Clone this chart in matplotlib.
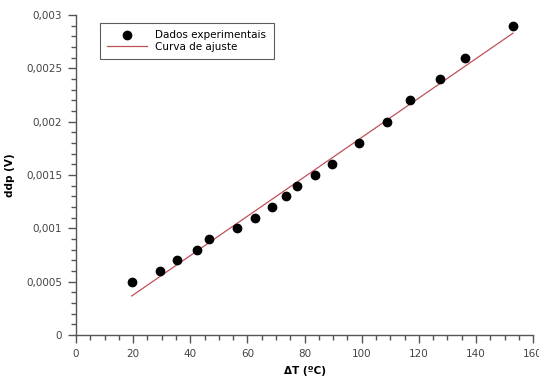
import numpy as np
import matplotlib
matplotlib.use('Agg')
import matplotlib.pyplot as plt
from matplotlib.ticker import MultipleLocator, FuncFormatter

#-----------------------------------------------------------------------------------------------------------------------
# Data
#-----------------------------------------------------------------------------------------------------------------------
delta_T = [19.5, 29.5, 35.5, 42.5, 46.5, 56.5, 62.5, 68.5, 73.5, 77.5, 83.5, 89.5, 99, 109, 117, 127.5, 136, 153]
ddp = [0.0005, 0.0006, 0.0007, 0.0008, 0.0009, 0.0010, 0.0011, 0.0012, 0.0013, 0.0014, 0.0015, 0.0016,
       0.0018, 0.0020, 0.0022, 0.0024, 0.0026, 0.0029]

fit_x = [19.5, 153]
fit_y = [0.000366, 0.00283]

#-----------------------------------------------------------------------------------------------------------------------
# Plot
#-----------------------------------------------------------------------------------------------------------------------
fig = plt.figure(figsize=(5.39, 3.81), dpi=100)
ax = fig.add_axes([0.141, 0.1207, 0.848, 0.84])

ax.plot(delta_T, ddp, 'o', color='black', markersize=6, label='Dados experimentais', zorder=3)
ax.plot(fit_x, fit_y, '-', color='#c0505a', linewidth=0.9, label='Curva de ajuste', zorder=2)

ax.set_xlim(0, 160)
ax.set_ylim(0, 0.003)
ax.xaxis.set_major_locator(MultipleLocator(20))
ax.xaxis.set_minor_locator(MultipleLocator(5))
ax.yaxis.set_major_locator(MultipleLocator(0.0005))
ax.yaxis.set_minor_locator(MultipleLocator(0.0001))

def comma_fmt(v, pos):
    return ('%g' % v).replace('.', ',')

ax.yaxis.set_major_formatter(FuncFormatter(comma_fmt))
ax.xaxis.set_major_formatter(FuncFormatter(comma_fmt))

for s in ['top', 'right']:
    ax.spines[s].set_visible(False)
for s in ['left', 'bottom']:
    ax.spines[s].set_color('#555555')
    ax.spines[s].set_linewidth(1.0)

ax.tick_params(which='major', direction='out', length=6, width=1, color='#555555',
               labelsize=7.5, labelcolor='#444444', pad=4)
ax.tick_params(which='minor', direction='out', length=3.5, width=1, color='#555555')

ax.set_xlabel('ΔT (ºC)', fontsize=7.5, fontweight='bold', labelpad=5)
ax.set_ylabel('ddp (V)', fontsize=7.5, fontweight='bold', labelpad=8)

leg = ax.legend(loc='upper left', bbox_to_anchor=(100 / 539, 1 - 23 / 381), bbox_transform=fig.transFigure,
                fontsize=7.5, frameon=True, fancybox=False, borderpad=0.7, handlelength=3.8,
                labelspacing=0.15, borderaxespad=0, handletextpad=0.8)
leg.get_frame().set_edgecolor('#333333')
leg.get_frame().set_linewidth(0.8)

fig.savefig('out.png', dpi=100)
